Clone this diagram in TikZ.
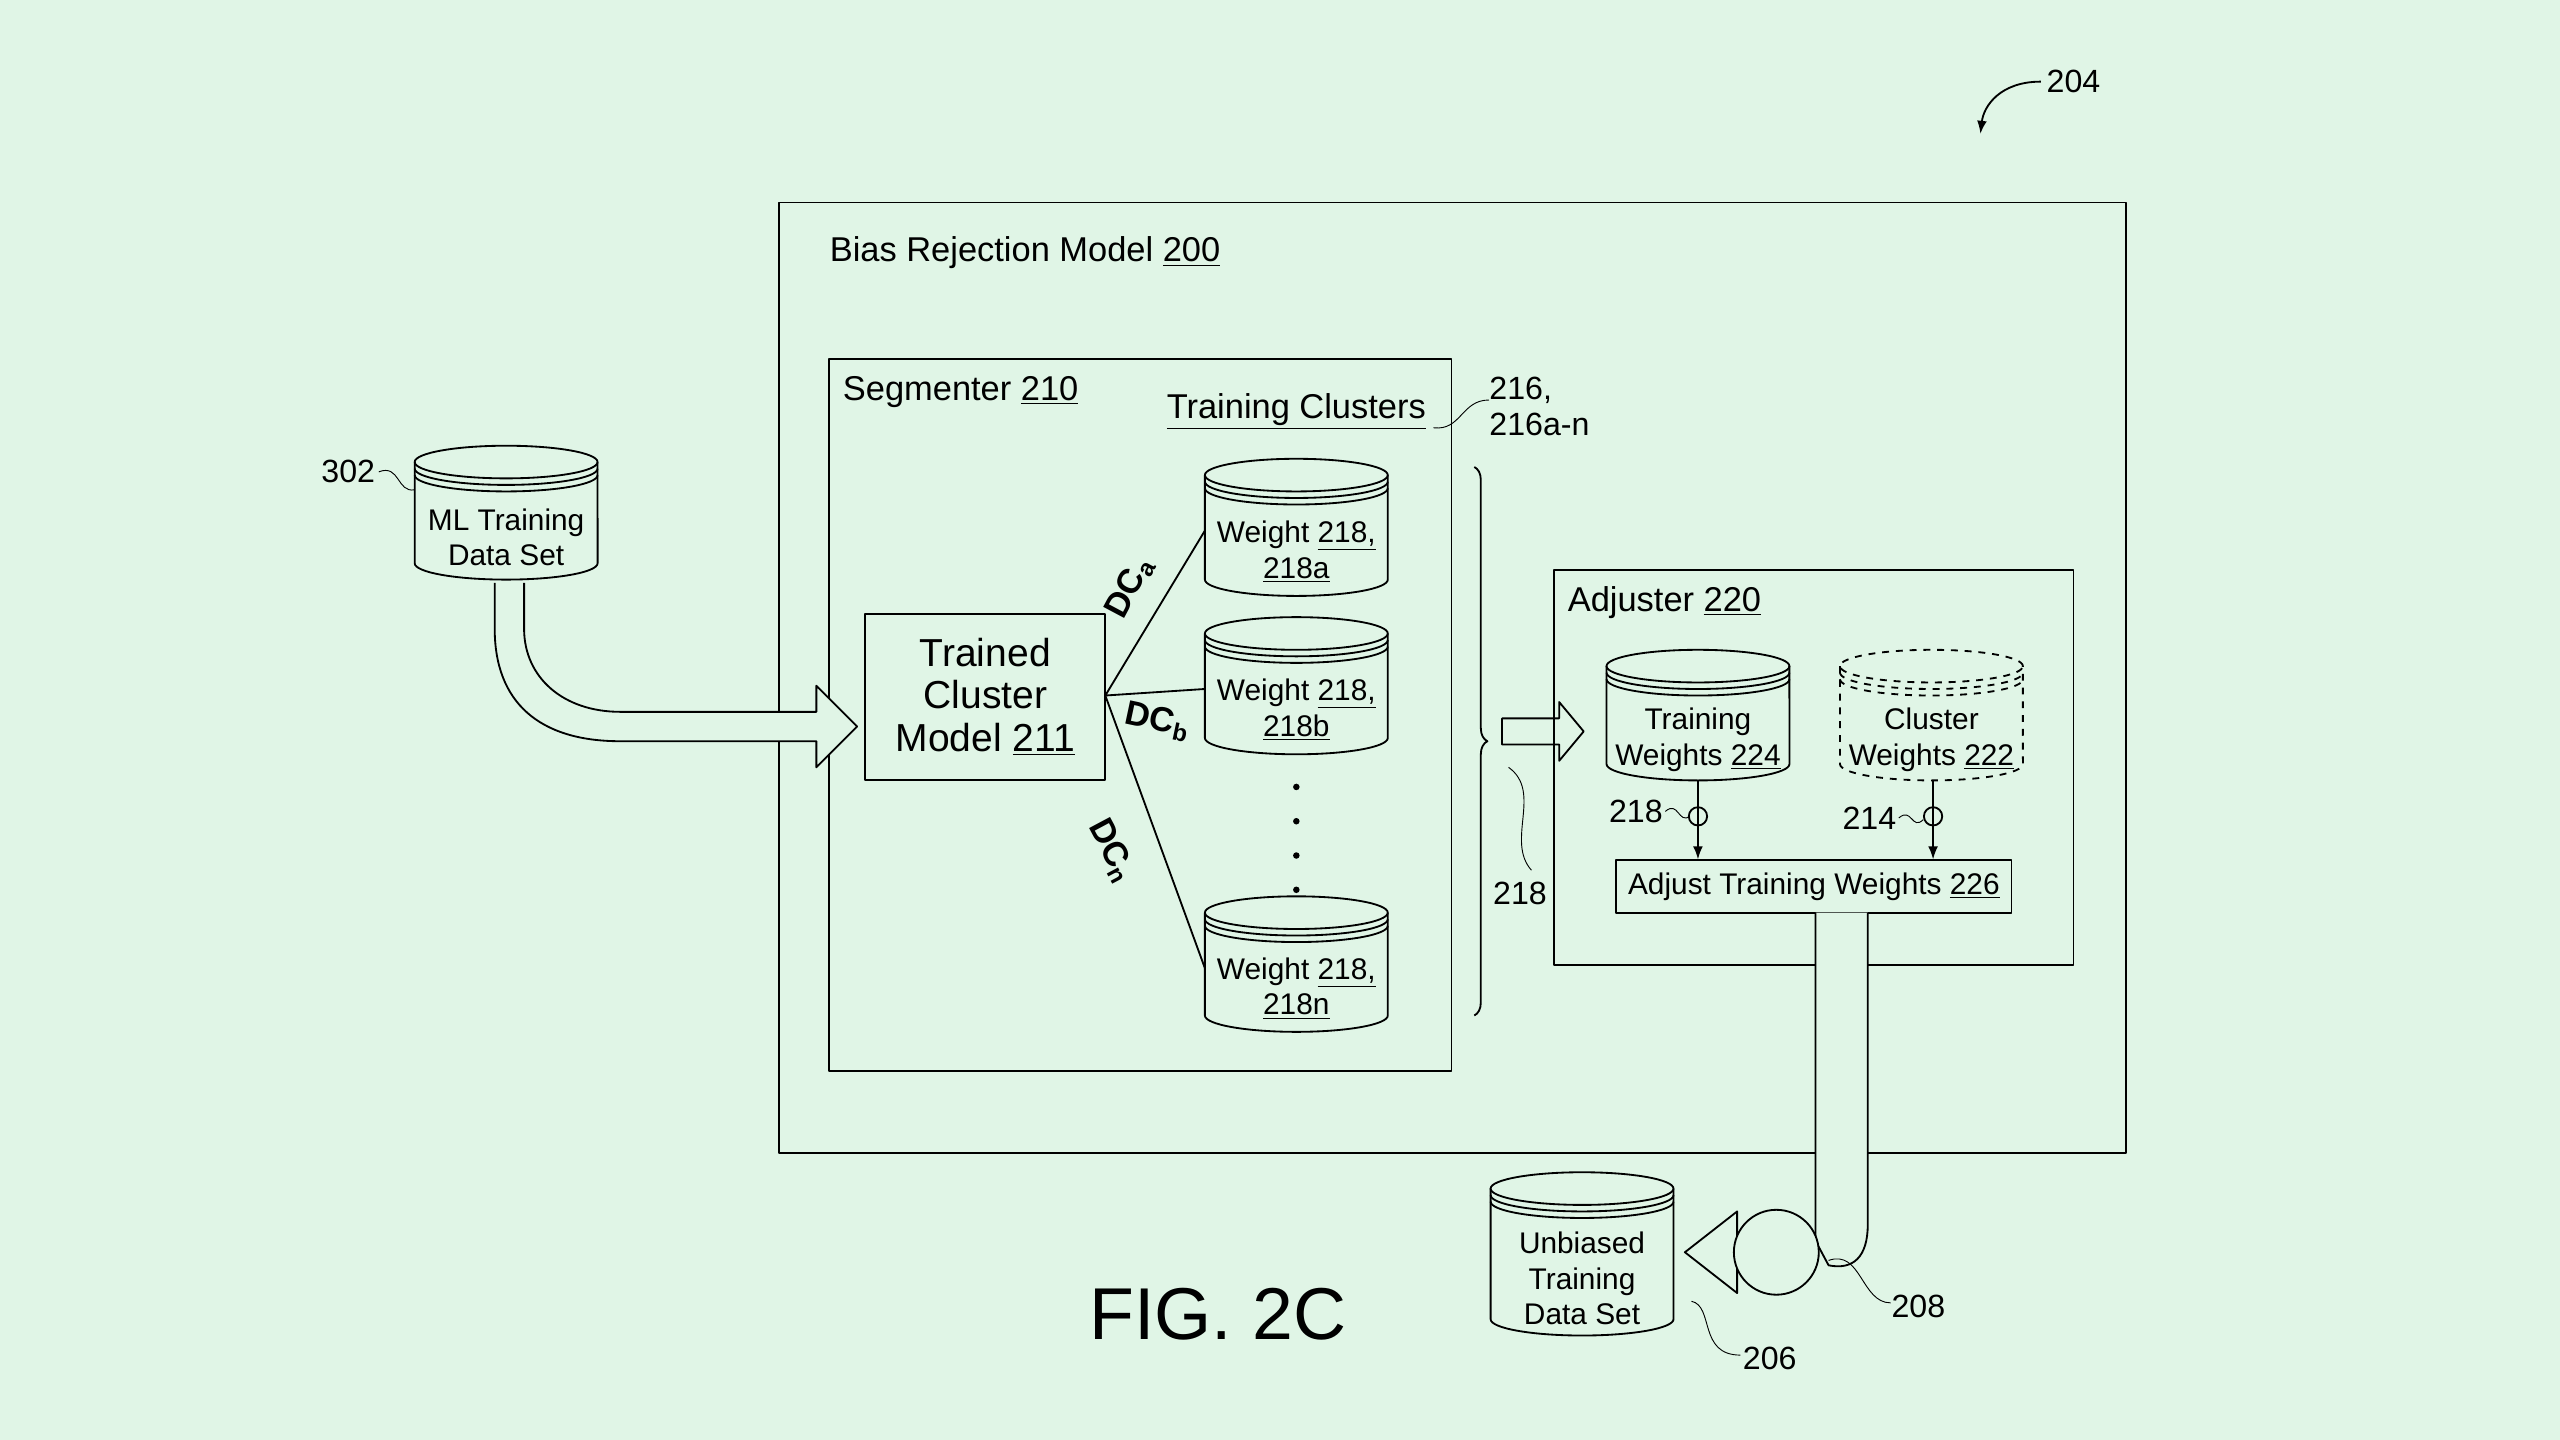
\documentclass[tikz,border=0pt]{standalone}
\usepackage{fontspec}
\setmainfont{Liberation Sans}
\usetikzlibrary{decorations.pathreplacing,arrows.meta}
\definecolor{bg}{HTML}{E0F5E6}
\newcommand\cylpic[6]{% name, cx, ytop, ybot, style, text
 \fill[bg] (#2-56,#3+10) -- (#2-56,#4-10) arc[start angle=180,end angle=360,x radius=1.4cm,y radius=0.25cm] -- (#2+56,#3+10) arc[start angle=0,end angle=180,x radius=1.4cm,y radius=0.25cm];
 \draw[thick,#5] (#2,#3+10) ellipse[x radius=1.4cm,y radius=0.25cm];
 \draw[thick,#5] (#2-56,#3+14) arc[start angle=180,end angle=360,x radius=1.4cm,y radius=0.25cm];
 \draw[thick,#5] (#2-56,#3+18) arc[start angle=180,end angle=360,x radius=1.4cm,y radius=0.25cm];
 \draw[thick,#5] (#2-56,#3+10) -- (#2-56,#4-10) arc[start angle=180,end angle=360,x radius=1.4cm,y radius=0.25cm] -- (#2+56,#3+10);
 \node[ctext] (#1) at (#2,{(#3+#4)/2+15}) {#6};
}
\tikzset{ctext/.style={align=center,font=\fontsize{13}{15.5}\selectfont,inner sep=0pt},
 lbl/.style={font=\fontsize{15}{17}\selectfont,inner sep=0pt,anchor=west},
 num/.style={font=\fontsize{14}{16}\selectfont,inner sep=0pt},
 dc/.style={font=\fontsize{15}{17}\selectfont\bfseries,inner sep=0pt},
 box/.style={draw,thick}}
\begin{document}
\begin{tikzpicture}[x=0.025cm,y=-0.025cm,line join=round]
\fill[bg] (0,0) rectangle (1568,882);
\useasboundingbox (0,0) rectangle (1568,882);
% outer
\draw[box] (477,124) rectangle (1302,706);
\node[lbl] (t200) at (508,155) {Bias Rejection Model \underline{200}};
\draw[box] (508,220) rectangle (889,656);
\node[lbl] (t210) at (516,240) {Segmenter \underline{210}};
\node[lbl,anchor=center] (tc) at (794,252) {\underline{Training Clusters}};
\node[num,align=left,anchor=west] (t216) at (912,249) {216,\\216a-n};
\draw (878,262) .. controls (895,264) and (895,245) .. (912,245);
% ML cylinder
\cylpic{ml}{310}{273}{355}{}{ML Training\\Data Set}
\node[num,anchor=east] (t302) at (230,289) {302};
\draw (232,289) .. controls (245,284) and (243,302) .. (254,300);
% hollow arrow
\draw[thick,fill=bg] (303,357) -- (303,385) .. controls (303,430) and (330,454) .. (380,454) -- (500,454) -- (500,470) -- (525,445) -- (500,420) -- (500,436) -- (380,436) .. controls (345,436) and (321,415) .. (321,385) -- (321,357);
% trained
\node[box,minimum width=147*0.025cm,minimum height=102*0.025cm,align=center,font=\fontsize{17}{18.5}\selectfont] (tcm) at (603.5,427) {Trained\\Cluster\\Model \underline{211}};
\cylpic{w1}{794}{281}{365}{}{Weight \underline{218,}\\\underline{218a}}
\cylpic{w2}{794}{378}{462}{}{Weight \underline{218,}\\\underline{218b}}
\cylpic{w3}{794}{549}{632}{}{Weight \underline{218,}\\\underline{218n}}
\coordinate (o) at (677,426);
\draw[thick] (o) -- (738,325);
\draw[thick] (o) -- (738,422);
\draw[thick] (o) -- (738,593);
\node[dc,rotate=62] (dca) at (692,360) {DC\textsubscript{a}};
\node[dc,rotate=-12] (dcb) at (709,442) {DC\textsubscript{b}};
\node[dc,rotate=-62] (dcn) at (681,521) {DC\textsubscript{n}};
\foreach \y in {482,503,524,545} \fill (794,\y) circle (0.05cm);
% brace
\draw[thick,decorate,decoration={brace,amplitude=0.2cm}] (903,286) -- (903,622);
\draw[thick,fill=bg] (920,440) -- (955,440) -- (955,430) -- (970,448) -- (955,466) -- (955,456) -- (920,456) -- cycle;
\node[num] (t218b) at (931,547) {218};
\draw (924,470) .. controls (945,485) and (922,515) .. (938,533);
% adjuster
\draw[box] (952,349) rectangle (1270,591);
\node[lbl] (t220) at (960,369) {Adjuster \underline{220}};
\cylpic{tw}{1040}{398}{478}{}{Training\\Weights \underline{224}}
\cylpic{cw}{1183}{398}{478}{dashed}{Cluster\\Weights \underline{222}}
\node[box,minimum width=242*0.025cm,minimum height=32*0.025cm,font=\fontsize{13}{14}\selectfont,inner sep=0pt] (atw) at (1111,543) {Adjust Training Weights \underline{226}};
\draw[thick,-{Latex[length=2mm]}] (1040,478) -- (atw.north -| 1040,0);
\draw[thick,-{Latex[length=2mm]}] (1184,478) -- (atw.north -| 1184,0);
\draw[thick] (1040,500) circle (0.14cm);
\draw[thick] (1184,500) circle (0.14cm);
\node[num] (t218c) at (1002,497) {218};
\node[num] (t214) at (1145,501) {214};
\draw (1020,497) .. controls (1028,490) and (1028,505) .. (1035,500);
\draw (1163,501) .. controls (1171,494) and (1171,509) .. (1178,502);
% output pipe
\draw[thick,fill=bg] (1112,559) -- (1112,760) -- (1120,775) .. controls (1135,778) and (1144,770) .. (1144,750) -- (1144,559);
\draw[thick,fill=bg] (1064,742) -- (1032,767) -- (1064,792) -- cycle;
\draw[thick,fill=bg] (1088,767) circle (0.65cm);
\node[num] (t208) at (1175,800) {208};
\draw (1120,772) .. controls (1140,765) and (1140,798) .. (1158,798);
\cylpic{ub}{969}{718}{818}{}{Unbiased\\Training\\Data Set}
\node[num] (t206) at (1084,832) {206};
\draw (1036,797) .. controls (1050,800) and (1040,830) .. (1066,830);
% 204
\node[num] (t204) at (1270,50) {204};
\draw[thick,-{Latex[length=2mm]}] (1250,50) .. controls (1225,50) and (1215,65) .. (1213,82);
\node[font=\fontsize{32}{34}\selectfont] (fig) at (746,805) {FIG. 2C};
\end{tikzpicture}
\end{document}
